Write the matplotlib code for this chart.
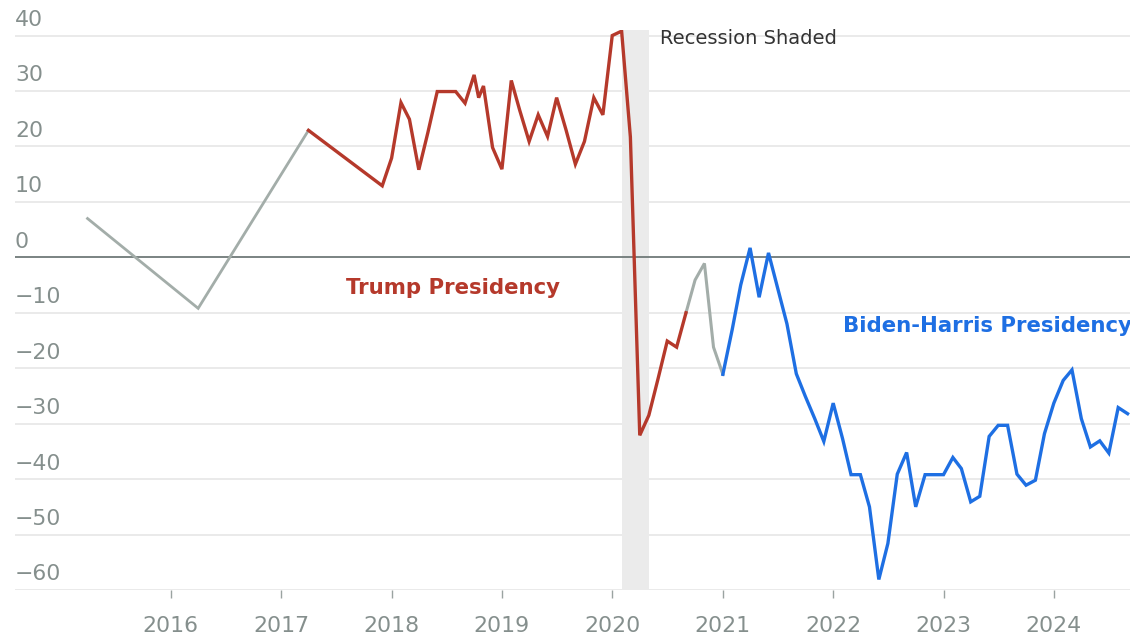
import pandas as pd
import matplotlib
matplotlib.use('Agg')
import matplotlib.pyplot as plt
import matplotlib.transforms as mtransforms

plt.rcParams['font.family'] = ['DejaVu Sans']

# early yearly readings (grey)
gray_early_dates = ["2015-04-01", "2016-04-01", "2017-04-01"]
gray_early_values = [7.0, -9.2, 22.9]

# Trump presidency (red)
trump_dates = ["2017-04-01", "2017-12-01",
               "2018-01-01", "2018-02-01", "2018-03-01", "2018-04-01", "2018-05-01", "2018-06-01",
               "2018-07-01", "2018-08-01", "2018-09-01", "2018-10-01", "2018-10-16", "2018-11-01",
               "2018-12-01",
               "2019-01-01", "2019-02-01", "2019-03-01", "2019-04-01", "2019-05-01", "2019-06-01",
               "2019-07-01", "2019-08-01", "2019-09-01", "2019-10-01", "2019-11-01", "2019-12-01",
               "2020-01-01", "2020-02-01", "2020-03-01", "2020-04-01", "2020-05-01", "2020-06-01",
               "2020-07-01", "2020-08-01", "2020-09-01"]
trump_values = [22.9, 12.9,
                17.9, 27.9, 24.9, 15.8, 22.5, 29.9,
                29.9, 29.9, 27.8, 32.9, 28.8, 30.9,
                19.8,
                15.9, 31.9, 26.5, 20.9, 25.7, 21.8,
                28.8, 23.0, 16.8, 20.9, 28.8, 25.7,
                40.0, 40.8, 21.7, -32.1, -28.5, -21.8,
                -15.1, -16.2, -10.0]

# transition months (grey)
gray_late_dates = ["2020-09-01", "2020-10-01", "2020-11-01", "2020-12-01", "2021-01-01"]
gray_late_values = [-10.0, -4.1, -1.1, -16.2, -21.1]

# Biden-Harris presidency (blue)
biden_dates = pd.date_range("2021-01-01", "2024-09-01", freq="MS")
biden_values = [-21.1, -13.0, -5.0, 1.7, -7.2, 0.8, -5.5, -12.0, -21.0, -25.1, -29.1, -33.2,
                -26.3, -32.7, -39.2, -39.2, -45.0, -58.1, -51.6, -39.1, -35.2, -45.0, -39.2, -39.2,
                -39.2, -36.1, -38.1, -44.1, -43.1, -32.3, -30.3, -30.3, -39.1, -41.1, -40.2, -31.8,
                -26.3, -22.2, -20.3, -29.1, -34.2, -33.1, -35.3, -27.1, -28.2]

recession = ("2020-02-01", "2020-05-01")
y_ticks = [40, 30, 20, 10, 0, -10, -20, -30, -40, -50, -60]
year_ticks = list(range(2016, 2025))

RED = '#b5392b'
BLUE = '#1e6fe3'
GREY = '#a3ada9'
TICK_GREY = '#858f8d'

fig = plt.figure(figsize=(11.3, 6.4), dpi=100)
ax = fig.add_axes([15 / 1130, 1 - 590 / 640, 1 - 15 / 1130, 560 / 640])

for y in y_ticks:
    if y != 0:
        ax.axhline(y, color='#e6e6e6', lw=1.2, zorder=0)
ax.axhline(0, color='#707a78', lw=1.3, zorder=1)

ax.axvspan(pd.Timestamp(recession[0]), pd.Timestamp(recession[1]), color='#ebebeb', lw=0, zorder=0.5)

ax.plot(pd.to_datetime(gray_early_dates), gray_early_values, color=GREY, lw=2.0, zorder=3,
        solid_joinstyle='miter')
ax.plot(pd.to_datetime(gray_late_dates), gray_late_values, color=GREY, lw=2.2, zorder=3,
        solid_joinstyle='miter')
ax.plot(pd.to_datetime(trump_dates), trump_values, color=RED, lw=2.4, zorder=4,
        solid_joinstyle='miter')
ax.plot(biden_dates, biden_values, color=BLUE, lw=2.4, zorder=4, solid_joinstyle='miter')

ax.set_xlim(pd.Timestamp("2014-08-04"), pd.Timestamp("2024-09-09"))
ax.set_ylim(-60, 41)

for s in ax.spines.values():
    s.set_visible(False)

ax.set_yticks([])
ax.set_xticks([pd.Timestamp(f"{y}-01-01") for y in year_ticks])
ax.set_xticklabels([str(y) for y in year_ticks])
ax.tick_params(axis='x', length=6, width=1, color='#9aa3a1', pad=13,
               labelsize=15.8, labelcolor=TICK_GREY)

trans = mtransforms.offset_copy(ax.get_yaxis_transform(), fig=fig, x=0, y=4, units='points')
for y in y_ticks:
    ax.text(0, y, f"{y}".replace('-', '\u2212'), transform=trans, ha='left', va='bottom',
            fontsize=15.8, color=TICK_GREY)

ax.text(pd.Timestamp("2018-07-23"), -5.6, "Trump Presidency", color=RED, fontsize=15.3,
        fontweight='bold', ha='center', va='center')
ax.text(pd.Timestamp("2022-02-03"), -12.4, "Biden-Harris Presidency", color=BLUE, fontsize=15.3,
        fontweight='bold', ha='left', va='center')
ax.text(pd.Timestamp("2020-06-07"), 39.5, "Recession Shaded", color='#333333', fontsize=14,
        ha='left', va='center')

plt.savefig('out.png', dpi=100)
